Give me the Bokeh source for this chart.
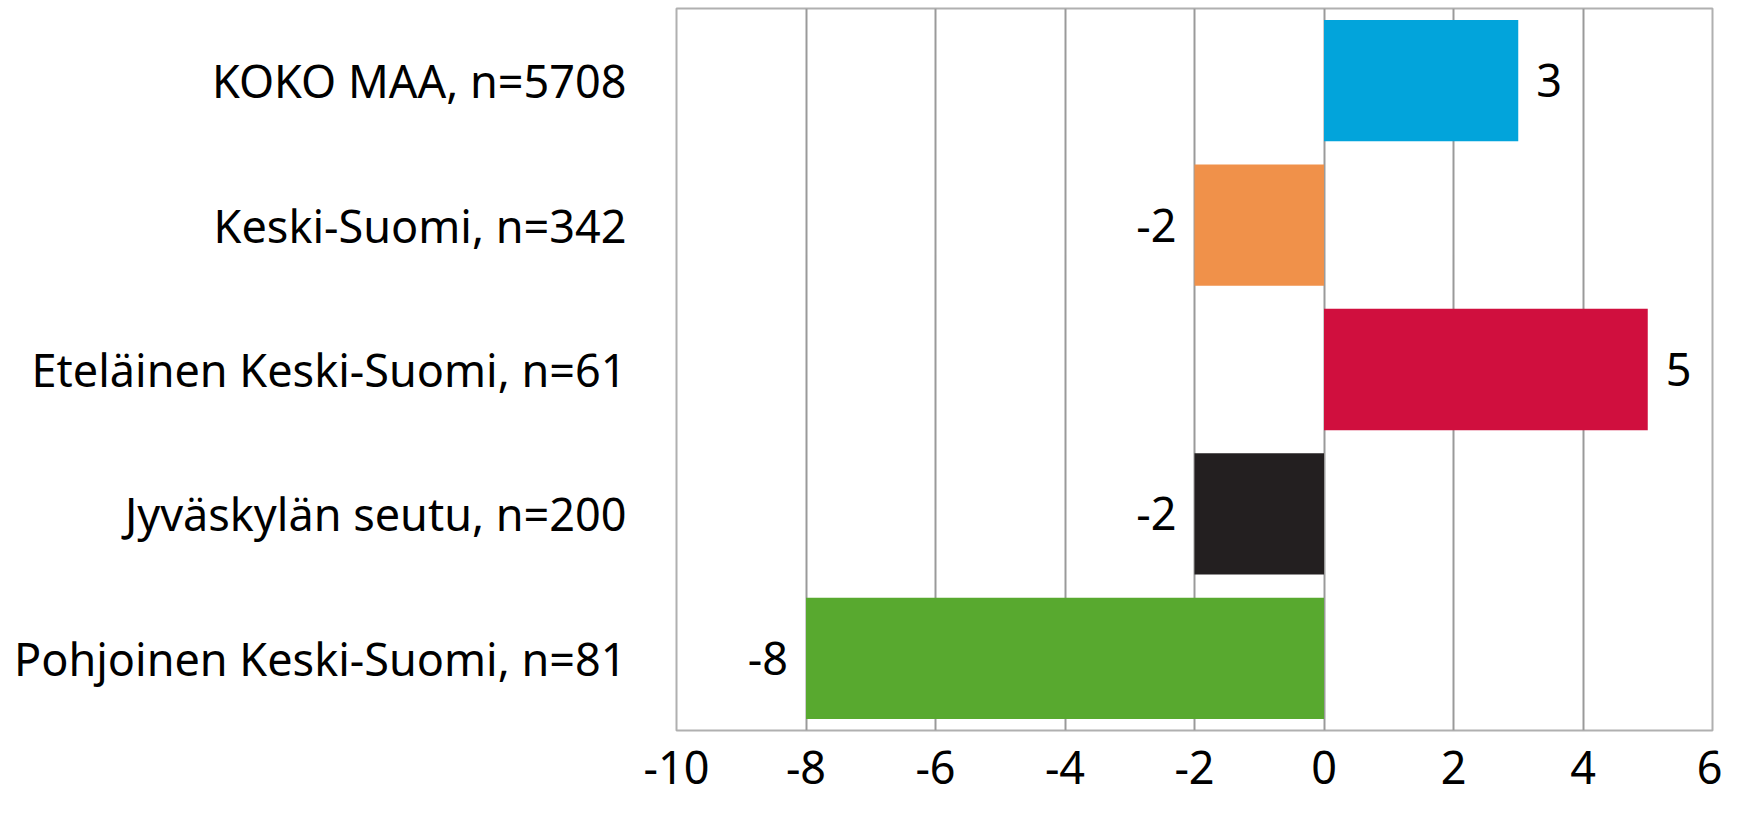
from bokeh.plotting import figure
from bokeh.models import ColumnDataSource, FactorRange, SingleIntervalTicker, CustomJSTickFormatter
from bokeh.core.properties import value
from bokeh.embed import file_html
from bokeh.resources import INLINE

categories = ["KOKO MAA, n=5708", "Keski-Suomi, n=342", "Eteläinen Keski-Suomi, n=61",
              "Jyväskylän seutu, n=200", "Pohjoinen Keski-Suomi, n=81"]
values = [3, -2, 5, -2, -8]
colors = ["#02A4DB", "#F0914A", "#D00F3E", "#231F20", "#58A92F"]

FONT = "Noto Sans"
FS = "45px"

src = ColumnDataSource(dict(
    cat=categories, val=values, color=colors,
    label=[str(v) for v in values],
    align=["left" if v >= 0 else "right" for v in values],
    xoff=[18 if v >= 0 else -18 for v in values],
))

p = figure(width=1722, height=806, output_backend="svg", toolbar_location=None,
           y_range=FactorRange(factors=list(reversed(categories)), range_padding=0),
           x_range=(-10, 6),
           min_border_top=8, min_border_left=676, min_border_right=10, min_border_bottom=76)

p.hbar(y="cat", left=0, right="val", height=0.84, color="color", source=src, line_color=None)
p.text(x="val", y="cat", text="label", text_align="align", text_baseline="middle",
       x_offset="xoff", text_font=value(FONT), text_font_size=FS, text_color="#000000",
       source=src)

p.xaxis.ticker = SingleIntervalTicker(interval=2)
p.xaxis.formatter = CustomJSTickFormatter(code="return tick.toString();")
p.xgrid.ticker = SingleIntervalTicker(interval=2)
p.xgrid.grid_line_color = "#9a9a9a"
p.xgrid.grid_line_width = 2
p.ygrid.grid_line_color = None

for ax in (p.xaxis[0], p.yaxis[0]):
    ax.axis_line_color = None
    ax.major_tick_line_color = None
    ax.minor_tick_line_color = None
    ax.major_label_text_font = FONT
    ax.major_label_text_font_size = FS
    ax.major_label_text_color = "#000000"

p.xaxis.major_label_standoff = 14
p.yaxis.major_label_standoff = 44

p.outline_line_color = "#b0b0b0"
p.outline_line_width = 2
p.background_fill_color = "white"
p.border_fill_color = "white"

open("out.html", "w").write(file_html(p, INLINE))
